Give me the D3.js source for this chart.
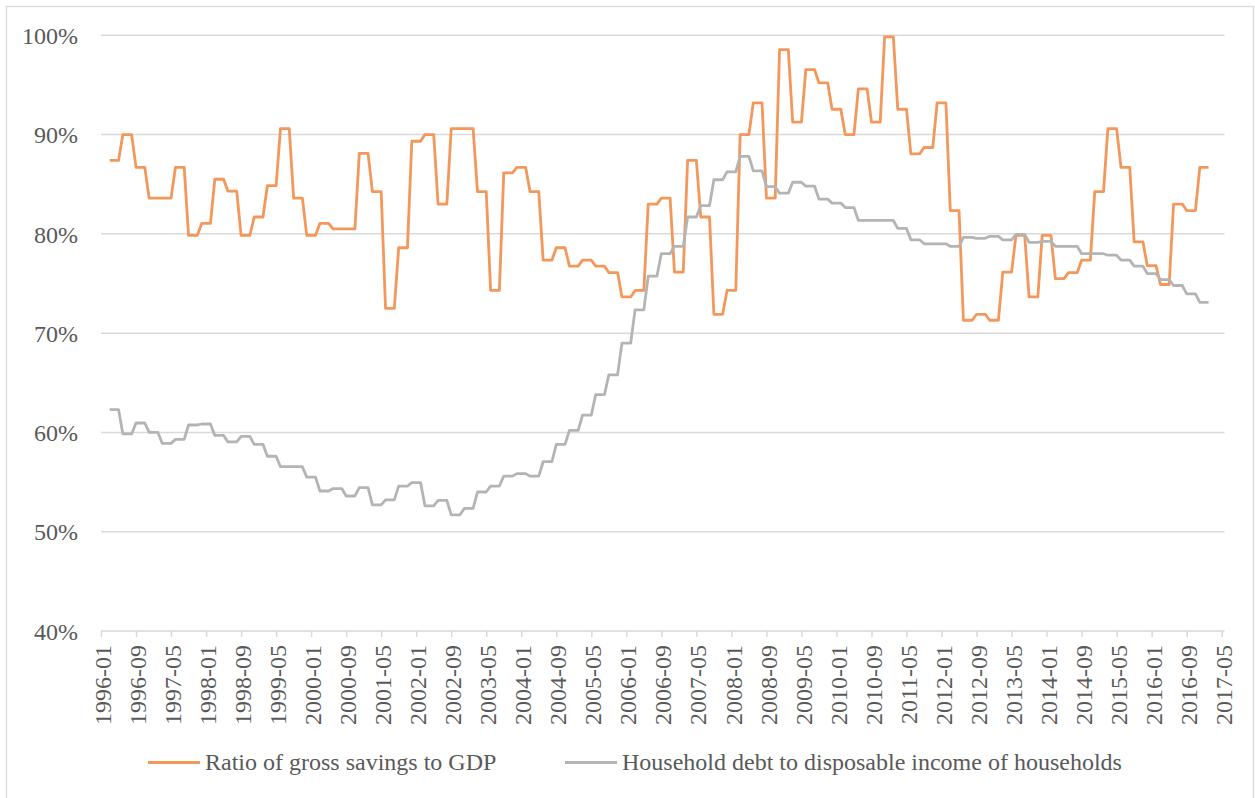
<!DOCTYPE html>
<html>
<head>
<meta charset="utf-8">
<script src="https://cdn.jsdelivr.net/npm/d3@7"></script>
<style>
  html, body { margin: 0; padding: 0; background: #ffffff; }
  svg { display: block; font-family: "Liberation Serif", "Times New Roman", serif; }
</style>
</head>
<body>
<svg id="chart" width="1255" height="798"></svg>
<script>
// Quarterly observations, first quarter starting 1996-03; each value covers three months.
const startMonth = 2; // months after 1996-01
const savingsRatio = [
  87.4, 90.0, 86.7, 83.6, 83.6, 86.7, 79.85, 81.05, 85.5, 84.3,
  79.85, 81.7, 84.85, 90.6, 83.6, 79.85, 81.05, 80.5, 80.5, 88.1,
  84.25, 72.5, 78.6, 89.33, 90.0, 83.0, 90.6, 90.6, 84.25, 74.3,
  86.15, 86.7, 84.25, 77.35, 78.6, 76.75, 77.35, 76.75, 76.1, 73.65,
  74.3, 83.0, 83.6, 76.15, 87.4, 81.7, 71.9, 74.3, 90.0, 93.2,
  83.6, 98.55, 91.25, 96.55, 95.2, 92.55, 90.0, 94.6, 91.25, 99.85,
  92.55, 88.05, 88.7, 93.2, 82.35, 71.3, 71.9, 71.3, 76.15, 79.85,
  73.65, 79.85, 75.5, 76.1, 77.35, 84.25, 90.6, 86.7, 79.2, 76.8,
  74.9, 83.0, 82.35, 86.7
];
const householdDebt = [
  62.3, 59.85, 60.95, 60.0, 58.9, 59.3, 60.75, 60.85, 59.7, 59.05,
  59.6, 58.8, 57.6, 56.55, 56.55, 55.5, 54.1, 54.35, 53.6, 54.45,
  52.7, 53.2, 54.6, 54.95, 52.6, 53.15, 51.7, 52.35, 54.0, 54.6,
  55.6, 55.85, 55.6, 57.05, 58.8, 60.2, 61.75, 63.8, 65.8, 69.0,
  72.35, 75.75, 78.0, 78.75, 81.7, 82.85, 85.45, 86.25, 87.8, 86.35,
  84.75, 84.1, 85.2, 84.8, 83.5, 83.1, 82.65, 81.35, 81.35, 81.35,
  80.55, 79.4, 79.0, 79.0, 78.75, 79.65, 79.55, 79.75, 79.4, 79.95,
  79.15, 79.25, 78.75, 78.75, 78.0, 78.0, 77.85, 77.35, 76.75, 76.0,
  75.4, 74.8, 73.95, 73.1
];
const seriesNames = ["Ratio of gross savings to GDP", "Household debt to disposable income of households"];
const seriesColors = ["#F4975A", "#B4B4B4"];
const tickLabels = [
  "1996-01", "1996-09", "1997-05", "1998-01", "1998-09", "1999-05", "2000-01", "2000-09",
  "2001-05", "2002-01", "2002-09", "2003-05", "2004-01", "2004-09", "2005-05", "2006-01",
  "2006-09", "2007-05", "2008-01", "2008-09", "2009-05", "2010-01", "2010-09", "2011-05",
  "2012-01", "2012-09", "2013-05", "2014-01", "2014-09", "2015-05", "2016-01", "2016-09",
  "2017-05"
];
const yTicks = [40, 50, 60, 70, 80, 90, 100];
const tickStep = 8; // months between x labels

// Spread each quarterly value over its three monthly points.
function monthly(values) {
  const pts = [];
  values.forEach((v, q) => {
    for (let k = 0; k < 3; k++) pts.push({ m: startMonth + q * 3 + k, v });
  });
  return pts;
}

const svg = d3.select("#chart");
const textColor = "#595959";
const gridColor = "#D9D9D9";
const fontSize = "24px";
const fontFamily = '"Liberation Serif", "Times New Roman", serif';

// Outer chart frame
svg.append("rect")
  .attr("x", 6.5).attr("y", 6.5)
  .attr("width", 1247).attr("height", 800)
  .attr("fill", "#fff").attr("stroke", gridColor).attr("stroke-width", 1.3);

const x = d3.scaleLinear().domain([0, 256]).range([101, 1221.7]);
const y = d3.scaleLinear().domain([40, 100]).range([631, 35.3]);
const plotRight = 1224.5;

// Horizontal gridlines
svg.append("g")
  .selectAll("line")
  .data(yTicks.filter(t => t > 40))
  .join("line")
  .attr("x1", x(0)).attr("x2", plotRight)
  .attr("y1", d => y(d)).attr("y2", d => y(d))
  .attr("stroke", gridColor).attr("stroke-width", 1.5);

// Y axis labels
const yAxis = d3.axisLeft(y).tickValues(yTicks).tickFormat(d => d + "%").tickSize(0).tickPadding(23);
const gy = svg.append("g").attr("transform", `translate(${x(0)},0)`).call(yAxis);
gy.select(".domain").remove();
gy.selectAll("text")
  .attr("fill", textColor)
  .style("font-size", fontSize)
  .style("font-family", fontFamily)
  .attr("dy", "0.34em");

// X axis
const xAxis = d3.axisBottom(x)
  .tickValues(tickLabels.map((_, i) => i * tickStep))
  .tickFormat((d, i) => tickLabels[i])
  .tickSizeOuter(0)
  .tickSize(6);
const gx = svg.append("g").attr("transform", `translate(0,${y(40)})`).call(xAxis);
gx.select(".domain")
  .attr("d", `M${x(0)},0H${plotRight}`)
  .attr("stroke", gridColor).attr("stroke-width", 1.5);
gx.selectAll(".tick line").attr("stroke", gridColor).attr("stroke-width", 1.5);
gx.selectAll("text")
  .attr("fill", textColor)
  .style("font-size", fontSize)
  .style("font-family", fontFamily)
  .attr("text-anchor", "end")
  .attr("transform", "rotate(-90)")
  .attr("x", -14)
  .attr("y", 0)
  .attr("dy", "0.40em");

// Series lines
const line = d3.line().x(d => x(d.m)).y(d => y(d.v));
[savingsRatio, householdDebt].forEach((vals, i) => {
  svg.append("path")
    .datum(monthly(vals))
    .attr("fill", "none")
    .attr("stroke", seriesColors[i])
    .attr("stroke-width", 2.8)
    .attr("stroke-linejoin", "round")
    .attr("d", line);
});

// Legend
const legendItems = [
  { x: 148, name: seriesNames[0], color: seriesColors[0] },
  { x: 565, name: seriesNames[1], color: seriesColors[1] }
];
const lg = svg.append("g");
legendItems.forEach(it => {
  lg.append("line")
    .attr("x1", it.x).attr("x2", it.x + 52)
    .attr("y1", 762.5).attr("y2", 762.5)
    .attr("stroke", it.color).attr("stroke-width", 2.8);
  lg.append("text")
    .attr("x", it.x + 57).attr("y", 769.5)
    .attr("fill", textColor)
    .style("font-size", fontSize)
    .style("font-family", fontFamily)
    .text(it.name);
});
</script>
</body>
</html>
